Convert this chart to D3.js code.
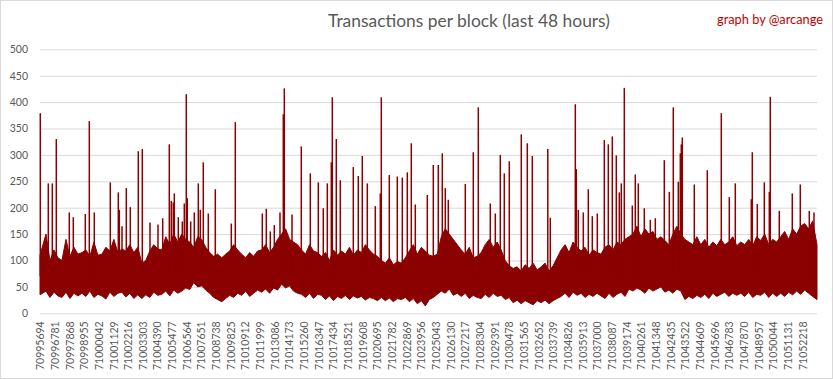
<!DOCTYPE html>
<html><head><meta charset="utf-8">
<script src="https://cdn.jsdelivr.net/npm/d3@7"></script>
<style>body{margin:0;background:#fff}svg{display:block}</style>
</head><body><svg id="c" width="833" height="379"></svg>
<script>
const titleText = "Transactions per block (last 48 hours)";
const creditText = "graph by @arcange";
const firstBlock = 70995694;
const blockCount = 57600;
const yTicks = [0,50,100,150,200,250,300,350,400,450,500];
const tickBlocks = [70995694,70996781,70997868,70998955,71000042,71001129,71002216,71003303,71004390,71005477,71006564,71007651,71008738,71009825,71010912,71011999,71013086,71014173,71015260,71016347,71017434,71018521,71019608,71020695,71021782,71022869,71023956,71025043,71026130,71027217,71028304,71029391,71030478,71031565,71032652,71033739,71034826,71035913,71037000,71038087,71039174,71040261,71041348,71042435,71043522,71044609,71045696,71046783,71047870,71048957,71050044,71051131,71052218];
// Per-bucket (296 blocks each) lowest and typical highest tx count
const bucketSize = 296;
const bucketLow = [35,42,30,40,33, 30,40,28,38,33, 38,32,42,30,36, 33,27,40,32,38, 40,31,38,28,35, 28,35,30,40,34, 36,42,33,44,38, 42,48,45,58,50, 52,44,38,30,26, 22,28,34,30,38, 34,42,32,38,44, 40,46,38,48,44, 55,48,52,42,38, 36,30,38,28,36, 34,26,33,24,32, 28,34,26,33,29, 32,25,30,28,24, 30,24,29,22,28, 26,30,22,28,18, 24,14,26,30,36, 42,38,46,34,38, 32,38,28,34,30, 28,36,30,38,32, 34,26,30,20,25, 18,24,20,16,24, 20,25,18,24,28, 32,38,30,40,34, 38,30,36,32,38, 33,28,38,30,36, 40,32,46,42,48, 44,38,48,42,46, 50,40,44,38,46, 42,26,32,28,34, 30,36,28,38,32, 36,40,32,38,34, 38,32,40,30,36, 34,40,30,38,32, 38,32,40,35,42, 36,44,38,32,26];
const bucketHigh = [110,150,100,120,105, 100,140,108,125,112, 115,120,108,135,110, 112,125,118,140,115, 122,118,130,115,125, 95,100,118,130,122, 120,145,130,150,135, 150,140,135,125,145, 140,125,115,108,112, 105,112,118,130,120, 112,105,115,108,118, 120,130,115,125,140, 150,160,140,135,130, 120,112,130,118,115, 108,115,100,120,110, 118,112,125,110,120, 115,130,120,112,108, 100,95,105,92,98, 95,105,118,130,112, 125,118,110,108,112, 145,160,150,140,130, 120,112,125,105,108, 115,130,140,125,135, 120,100,90,85,88, 80,92,85,95,82, 88,95,80,90,105, 120,130,115,135,125, 118,125,110,120,115, 112,125,130,120,135, 130,140,145,150,165, 145,160,150,155,140, 145,138,130,150,165, 150,140,135,130,145, 130,140,125,135,128, 140,130,135,145,128, 135,130,140,128,145, 138,150,130,140,135, 145,155,140,160,150, 165,170,160,175,130];
// Isolated spikes: offset from firstBlock and tx count
const spikeOffset = [22,615,912,1208,2172,2469,3358,3655,4025,5211,5804,5879,6079,6397,6694,7287,7584,8154,8747,9096,9585,9733,9881,9956,10252,10549,10697,10845,10919,11171,11438,11735,11883,12105,12476,12995,14181,14478,16479,16776,17072,17369,17791,18036,18110,18681,19370,20038,20630,21001,21298,21594,21669,21965,22262,23225,23596,23892,24263,24856,25227,25301,25894,26487,26858,27228,27525,27821,28711,29156,29526,29823,30045,30268,31528,32121,32492,33381,33752,34122,34419,34789,35679,36124,36495,37644,37829,39683,39757,39905,40276,40646,40943,41314,41833,42129,42426,42722,42944,43093,43315,43908,44130,44353,44798,45242,45613,46280,46651,46947,47318,47466,47540,47614,48504,49467,50505,51098,51543,52729,52803,53174,53693,54063,54137,54804,55768,56361,57028,57377];
const spikeTx = [379,246,246,330,191,182,188,364,191,248,229,196,165,237,201,307,311,172,168,180,320,213,210,227,182,174,208,415,218,174,191,246,196,286,189,235,170,362,189,198,155,167,191,377,426,187,316,265,248,199,246,286,409,330,252,277,260,298,246,203,227,409,262,259,257,267,322,206,224,281,281,303,237,215,245,305,390,208,189,300,265,288,339,322,298,311,181,396,273,196,191,235,184,189,328,320,335,299,229,246,427,204,263,246,199,177,180,290,230,390,249,303,320,333,244,271,379,220,246,216,305,207,248,230,410,194,227,244,194,191];

const svg = d3.select("#c");
const W = 833, H = 379;
const plotL = 40, plotR = 817, plotT = 49.3, plotB = 313.3;
const color = "#8b0000";
const font = "Lato, 'Open Sans', sans-serif";

svg.append("rect").attr("x",0.5).attr("y",0.5).attr("width",W-1).attr("height",H-1)
  .attr("fill","#fff").attr("stroke","#d9d9d9");

const x = d3.scaleLinear().domain([firstBlock, firstBlock + blockCount]).range([plotL, plotR]);
const y = d3.scaleLinear().domain([0, 500]).range([plotB, plotT]);

// gridlines + y labels
const yAxis = d3.axisLeft(y).tickValues(yTicks).tickSize(-(plotR - plotL)).tickPadding(12);
const gy = svg.append("g").attr("transform", `translate(${plotL},0)`).call(yAxis);
gy.select(".domain").remove();
gy.selectAll(".tick line").attr("stroke","#d9d9d9").attr("stroke-width",1);
gy.selectAll(".tick text").attr("fill","#595959").style("font-family",font).style("font-size","10.5px");

// x axis labels
const xAxis = d3.axisBottom(x).tickValues(tickBlocks).tickSize(0).tickFormat(d3.format("d"));
const gx = svg.append("g").attr("transform", `translate(0,${plotB})`).call(xAxis);
gx.select(".domain").remove();
gx.selectAll(".tick text")
  .attr("transform","rotate(-90)")
  .attr("text-anchor","end")
  .attr("x",-8).attr("y",0).attr("dy","0.35em")
  .attr("fill","#595959").style("font-family",font).style("font-size","10.5px");

// band
const bands = bucketLow.map((lo,i)=>({b: firstBlock + i*bucketSize + bucketSize/2, lo, hi: bucketHigh[i]}));
bands[0].b = firstBlock; bands[bands.length-1].b = firstBlock + blockCount;
const area = d3.area().x(d=>x(d.b)).y0(d=>y(d.lo)).y1(d=>y(d.hi));
svg.append("path").datum(bands).attr("d",area).attr("fill",color)
  .attr("stroke",color).attr("stroke-width",1);

// spikes
svg.append("g").selectAll("line").data(spikeOffset.map((o,i)=>({b:firstBlock+o, v:spikeTx[i]})))
  .join("line")
  .attr("x1",d=>x(d.b)).attr("x2",d=>x(d.b))
  .attr("y1",y(70)).attr("y2",d=>y(d.v))
  .attr("stroke",color).attr("stroke-width",1.5);

// title
const t = svg.append("text").attr("x",469).attr("y",26.5).attr("text-anchor","middle")
  .attr("fill","#595959").style("font-family",font).style("font-size","18px").text(titleText);
let tw = t.node().getComputedTextLength();
t.style("font-size", (18*282/tw) + "px");

const c = svg.append("text").attr("x",770).attr("y",24).attr("text-anchor","middle")
  .attr("fill","#c00000").style("font-family",font).style("font-size","12px").text(creditText);
let cw = c.node().getComputedTextLength();
c.style("font-size", (12*106/cw) + "px");
</script></body></html>
